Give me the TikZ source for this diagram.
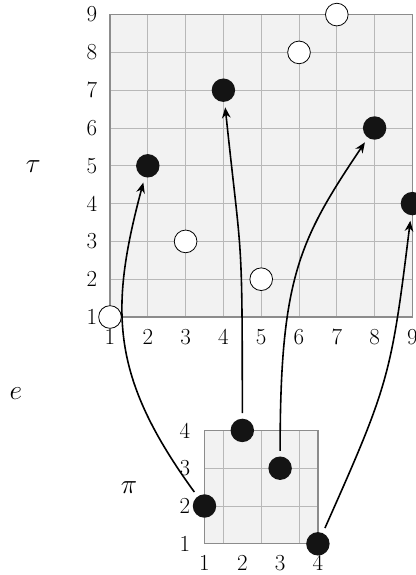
\documentclass[tikz,border=0pt]{standalone}
\usetikzlibrary{arrows.meta}
\begin{document}
\begin{tikzpicture}[
  lbl/.style={font=\LARGE, inner sep=0pt},
  glbl/.style={font=\huge, inner sep=0pt},
  gridline/.style={draw=black!28, line width=0.6pt},
  border/.style={draw=black!45, line width=0.9pt},
  bdot/.style={circle, fill=black!92, minimum size=0.62cm, inner sep=0pt},
  wdot/.style={circle, draw=black, fill=white, minimum size=0.6cm, inner sep=0pt, line width=0.6pt},
  arr/.style={-{Stealth[length=8pt,width=6.5pt]}, line width=1.2pt, shorten >=4pt, shorten <=4pt}
]
\useasboundingbox (-1.91,-5.825) rectangle (9.07,9.386);
% big grid
\fill[black!5] (1,1) rectangle (9,9);
\draw[gridline] (1,1) grid (9,9);
\draw[border] (1,1) rectangle (9,9);
\foreach \i in {1,...,9} {
  \node[lbl] (bx\i) at (\i,0.47) {\i};
  \node[lbl] (by\i) at (0.52,\i) {\i};
}
% small grid
\fill[black!5] (3.5,-5) rectangle (6.5,-2);
\draw[gridline] (3.5,-5) grid (6.5,-2);
\draw[border] (3.5,-5) rectangle (6.5,-2);
\foreach \i in {1,...,4} {
  \node[lbl] (sx\i) at ({\i+2.5},-5.5) {\i};
  \node[lbl] (sy\i) at (2.98,{\i-6}) {\i};
}
% labels
\node[glbl] (tau) at (-1.03,4.98) {$\tau$};
\node[glbl] (e) at (-1.49,-1.02) {$e$};
\node[glbl] (pi) at (1.5,-3.5) {$\pi$};
% tau points
\node[wdot] (w1) at (1,1) {};
\node[wdot] (w3) at (3,3) {};
\node[wdot] (w5) at (5,2) {};
\node[wdot] (w6) at (6,8) {};
\node[wdot] (w7) at (7,9) {};
\node[bdot] (t2) at (2,5) {};
\node[bdot] (t4) at (4,7) {};
\node[bdot] (t8) at (8,6) {};
\node[bdot] (t9) at (9,4) {};
% pi points
\node[bdot] (p1) at (3.5,-4) {};
\node[bdot] (p2) at (4.5,-2) {};
\node[bdot] (p3) at (5.5,-3) {};
\node[bdot] (p4) at (6.5,-5) {};
% arrows
\draw[arr] (p1) .. controls +(126:4.2) and +(-105:4.0) .. (t2);
\draw[arr] (p2) .. controls +(90:5.4) and +(-84:4.6) .. (t4);
\draw[arr] (p3) .. controls +(90:5.0) and +(-124:3.6) .. (t8);
\draw[arr] (p4) .. controls +(66:4.6) and +(-97:4.6) .. (t9);
\end{tikzpicture}
\end{document}
